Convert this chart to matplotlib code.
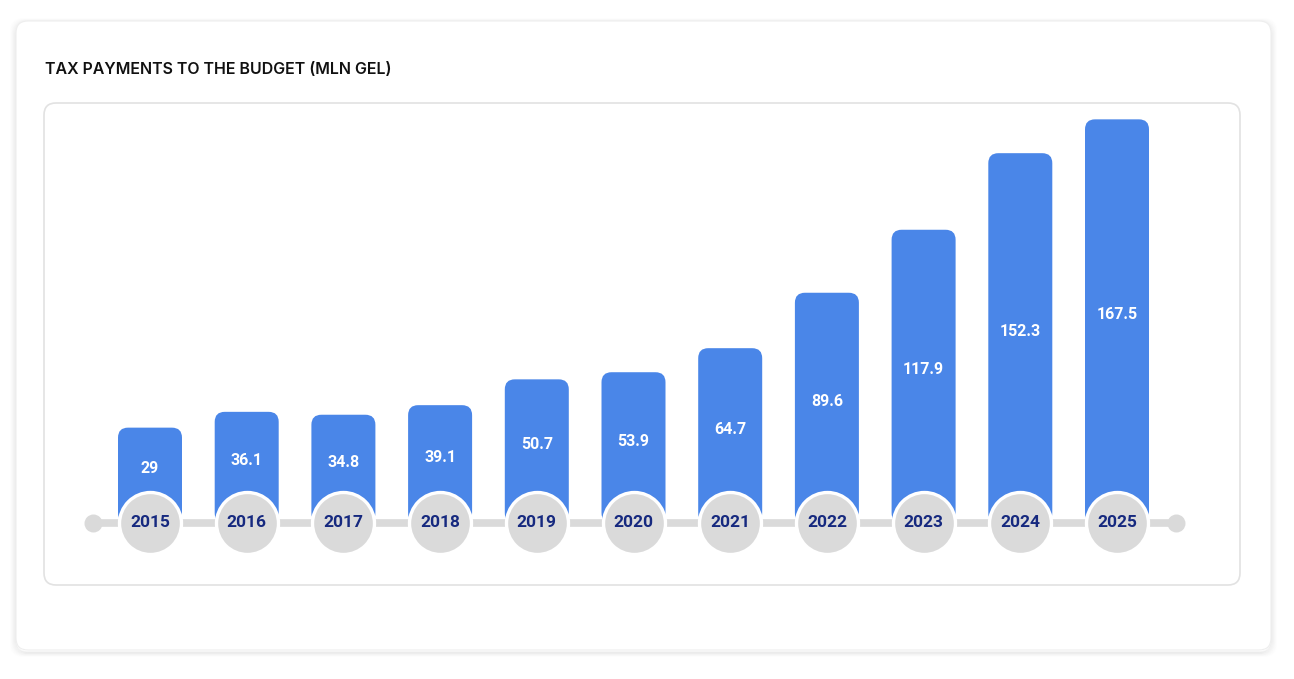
import numpy as np
import matplotlib
matplotlib.use('Agg')
from matplotlib import pyplot as plt
from matplotlib.patches import FancyBboxPatch

years = ['2015', '2016', '2017', '2018', '2019', '2020', '2021', '2022', '2023', '2024', '2025']
values = [29, 36.1, 34.8, 39.1, 50.7, 53.9, 64.7, 89.6, 117.9, 152.3, 167.5]
value_labels = ['29', '36.1', '34.8', '39.1', '50.7', '53.9', '64.7', '89.6', '117.9', '152.3', '167.5']
title = 'TAX PAYMENTS TO THE BUDGET (MLN GEL)'

BLUE = '#4a86e8'
GREY = '#dadada'
NAVY = '#16297f'
W, H = 1294, 679
DPI = 100

num_font = ['Roboto', 'DejaVu Sans']

fig = plt.figure(figsize=(W / DPI, H / DPI), dpi=DPI)
fig.patch.set_facecolor('white')

# background axes in pixel coords for the cards
bg = fig.add_axes([0, 0, 1, 1])
bg.set_xlim(0, W)
bg.set_ylim(H, 0)
bg.axis('off')

# soft shadow of the outer card
for k in range(8):
    bg.add_patch(FancyBboxPatch((16 - k * 0.8, 23 - k * 0.6), 1255 + k * 1.6, 629 + k * 1.2,
                                boxstyle='round,pad=0,rounding_size=12',
                                fc='none', ec='#000000', lw=1.2, alpha=0.035 * (8 - k) / 8))
bg.add_patch(FancyBboxPatch((16, 21), 1255, 629, boxstyle='round,pad=0,rounding_size=12',
                            fc='white', ec='#eeeeee', lw=0.8))
bg.add_patch(FancyBboxPatch((44, 103), 1196, 482, boxstyle='round,pad=0,rounding_size=12',
                            fc='white', ec='#e2e2e2', lw=1.2))
bg.text(45, 69, title, fontsize=11.5, fontweight='semibold', family=['Inter', 'DejaVu Sans'],
        color='#111111', va='center', ha='left')

# data axes: bar centres 150 + 96.7*i px, value 0 at y=492 px, 2.226 px per unit
ax = fig.add_axes([0, 0, 1, 1])
ax.patch.set_alpha(0)
ax.axis('off')
step = 96.7
ppu = 2.226
ax.set_xlim(-150 / step, (W - 150) / step)
ax.set_ylim((492.2 - H) / ppu, 492.2 / ppu)

x = np.arange(len(years))
bar_w = 64 / step
base = -13.8   # circle centre level
visible_bottom = -8

bars = ax.bar(x, np.array(values) - base, bottom=base, width=bar_w, color=BLUE)
# swap rectangles for ones with rounded tops
rs = 10 / step
aspect = (10 / ppu) / rs
for b in bars:
    bx, by = b.get_x(), b.get_y()
    bw, bh = b.get_width(), b.get_height()
    b.remove()
    ax.add_patch(FancyBboxPatch((bx, by), bw, bh,
                                boxstyle='round,pad=0,rounding_size=%f' % rs,
                                mutation_aspect=aspect, fc=BLUE, ec='none', zorder=2))

for xi, v, lab in zip(x, values, value_labels):
    ax.text(xi, (v + visible_bottom) / 2, lab, ha='center', va='center', color='white',
            fontsize=11.5, fontweight='bold', family=num_font, zorder=5)

# timeline
line_x = [x[0] - 0.59, x[-1] + 0.61]
ax.plot(line_x, [base, base], color=GREY, lw=5.5, solid_capstyle='butt', zorder=3)
ax.scatter(line_x, [base, base], s=(18 * 0.72) ** 2, color=GREY, zorder=3, linewidths=0)
ax.scatter(x, [base] * len(x), s=(62 * 0.72) ** 2, color=GREY, edgecolors='white',
           linewidths=2.4, zorder=4)
for xi, yr in zip(x, years):
    ax.text(xi, base, yr, ha='center', va='center', color=NAVY, fontsize=12.5,
            fontweight='bold', family=num_font, zorder=5)

fig.savefig('out.png', dpi=DPI, facecolor='white')
